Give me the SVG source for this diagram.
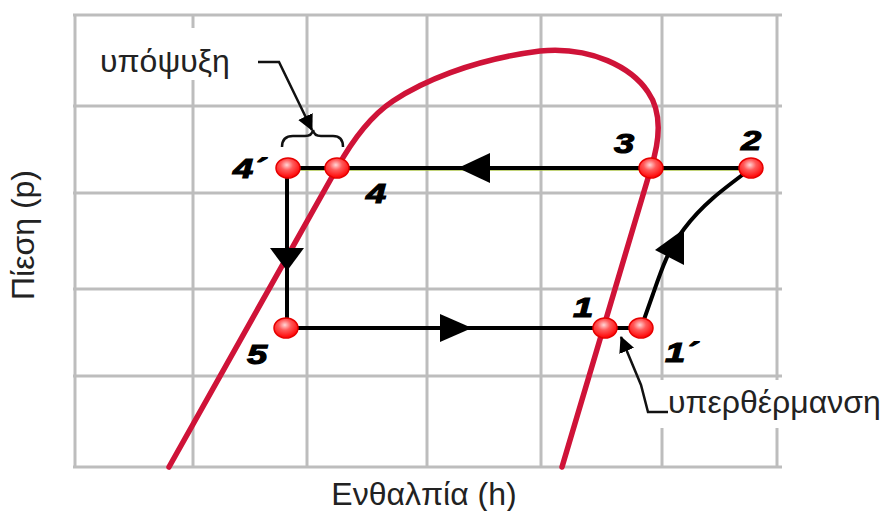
<svg xmlns="http://www.w3.org/2000/svg" width="892" height="511" viewBox="0 0 892 511">
<style>
.grid{stroke:#bdbdbd;stroke-width:3;fill:none}
.sat{stroke:#cf1338;stroke-width:5.5;fill:none;stroke-linecap:round;stroke-linejoin:round}
.flow{stroke:#000;stroke-width:4;fill:none}
.glow{stroke:#a8c040;stroke-width:1;fill:none;opacity:0.7}
.head{fill:#000}
.lead{stroke:#111;stroke-width:2.5;fill:none}
.pt{fill:url(#pg);stroke:#e60000;stroke-width:1.5}
.num{font-family:"Liberation Sans",Arial,sans-serif;font-weight:bold;font-style:italic;font-size:28px;fill:#000;stroke:#000;stroke-width:1.1}
.lbl{font-family:"Liberation Sans",Arial,sans-serif;font-size:32px;fill:#222}
</style>
<defs>
<radialGradient id="pg" cx="0.45" cy="0.35" r="0.65">
<stop offset="0" stop-color="#ffd6d6"/>
<stop offset="0.4" stop-color="#ff5a5a"/>
<stop offset="1" stop-color="#ff0000"/>
</radialGradient>
<marker id="ah" viewBox="0 0 16 16" refX="15" refY="8" markerWidth="16" markerHeight="16" markerUnits="userSpaceOnUse" orient="auto">
<path d="M0,0 L16,8 L0,16 z" fill="#000"/>
</marker>
</defs>
<g id="grid">
<path class="grid" d="M75,14 V467 M193,14 V467 M307,14 V467 M427,14 V467 M541,14 V467 M662,14 V467 M777,14 V467"/>
<path class="grid" d="M73,15 H782 M73,106 H782 M73,193 H782 M73,289 H782 M73,376 H782 M73,467 H782"/>
</g>
<g id="label-bg" fill="#fff">
<rect x="95" y="28" width="145" height="52"/>
<rect x="652" y="380" width="240" height="48"/>
</g>
<g id="saturation-curve">
<path class="sat" d="M169,467 L337,168 C352,141 372,115 393,101 C420,83 470,60 540,51 C592,46 632,68 648,92 C662,112 660,140 651,168 L562,467"/>
</g>
<g id="connectors">
<path class="glow" d="M288,170.5 H751"/>
<path class="flow" d="M288,168 H751"/>
<path class="flow" d="M287,168 V328"/>
<path class="flow" d="M286,328 H641"/>
<path class="flow" stroke-width="3.5" d="M641,328 L653,294 C662,268 668,250 684,229 C702,205 722,190 749,170"/>
<polygon class="head" points="458,168 490,153 490,183"/>
<polygon class="head" points="287,271 270,248 304,248"/>
<polygon class="head" points="472,328 440,314 440,342"/>
<polygon class="head" points="684,229 655,250 684,265"/>
<path class="lead" d="M258,62 L279,62 L312,130" marker-end="url(#ah)"/>
<path class="lead" d="M282,147 Q282,136 293,136 L305,136 Q312,136 313,130 Q314,136 321,136 L333,136 Q343,136 343,147" stroke-width="2.2"/>
<path class="lead" d="M668,412 L648,412 L641,385 L621,337" marker-end="url(#ah)"/>
</g>
<g id="p4prime"><ellipse class="pt" cx="288" cy="168" rx="12" ry="10"/><text class="num" transform="translate(233,178) scale(1.3,1)">4´</text></g>
<g id="p4"><ellipse class="pt" cx="337" cy="168" rx="12" ry="10"/><text class="num" transform="translate(366,203) scale(1.3,1)">4</text></g>
<g id="p3"><ellipse class="pt" cx="651" cy="168" rx="12" ry="10"/><text class="num" transform="translate(614,153) scale(1.3,1)">3</text></g>
<g id="p2"><ellipse class="pt" cx="751" cy="168" rx="12" ry="10"/><text class="num" transform="translate(741,150) scale(1.3,1)">2</text></g>
<g id="p5"><ellipse class="pt" cx="286" cy="328" rx="12" ry="10"/><text class="num" transform="translate(247,364) scale(1.3,1)">5</text></g>
<g id="p1"><ellipse class="pt" cx="605" cy="328" rx="12" ry="10"/><text class="num" transform="translate(573,317) scale(1.3,1)">1</text></g>
<g id="p1prime"><ellipse class="pt" cx="641" cy="328" rx="12" ry="10"/><text class="num" transform="translate(665,362) scale(1.3,1)">1´</text></g>
<g id="subcooling-label"><text class="lbl" x="100" y="72">υπόψυξη</text></g>
<g id="superheat-label"><text class="lbl" x="668" y="413">υπερθέρμανση</text></g>
<g id="x-axis-label"><text class="lbl" x="424" y="505" text-anchor="middle">Ενθαλπία (h)</text></g>
<g id="y-axis-label"><text class="lbl" font-size="28" transform="translate(34,235) rotate(-90)" text-anchor="middle">Πίεση (p)</text></g>
</svg>
